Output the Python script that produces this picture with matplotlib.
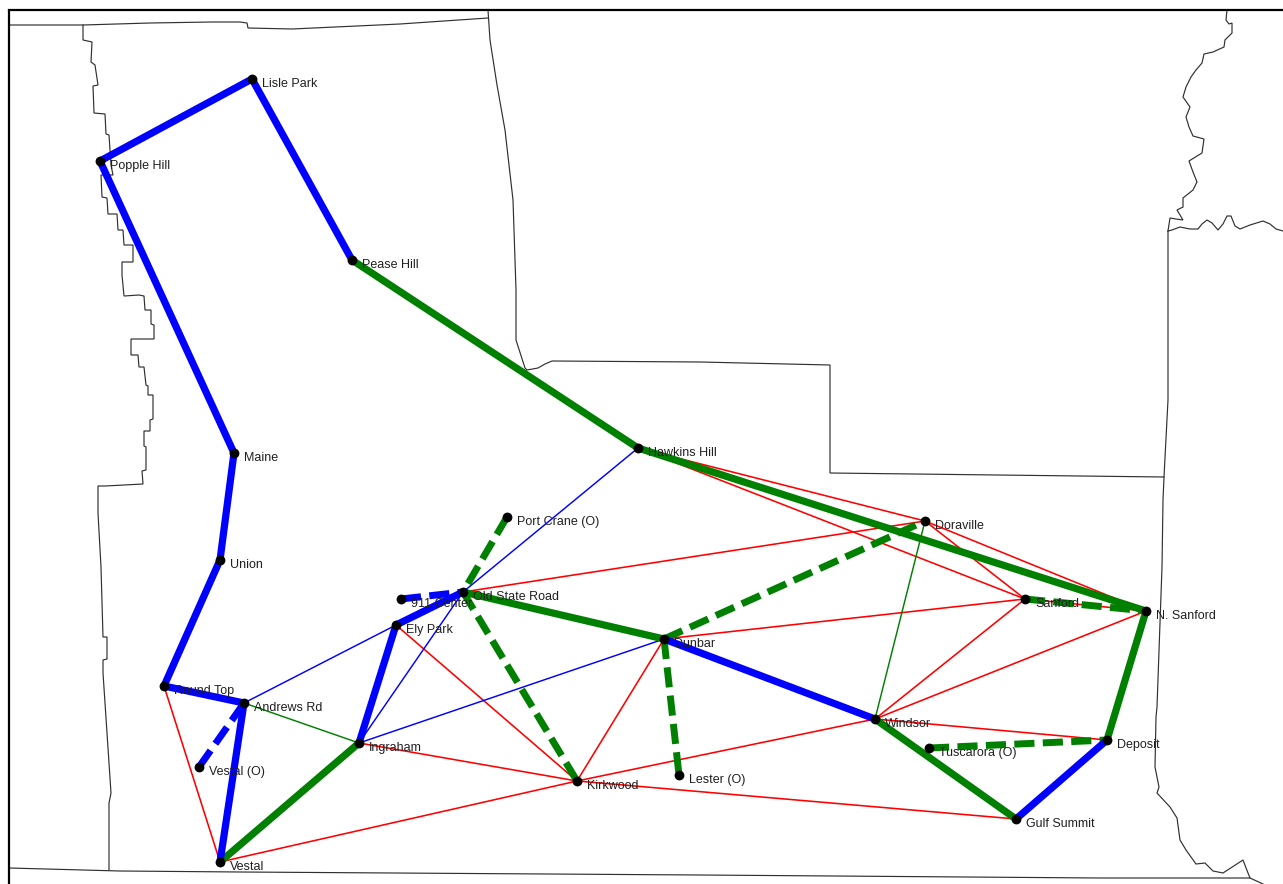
import matplotlib
matplotlib.use("Agg")
import matplotlib.pyplot as plt

plt.rcParams['font.family'] = ['Liberation Sans', 'DejaVu Sans']

# Sites: name -> map position
names = ["Lisle Park", "Popple Hill", "Pease Hill", "Hawkins Hill", "Maine", "Union", "Round Top",
         "Andrews Rd", "Ingraham", "Vestal (O)", "Vestal", "Ely Park", "911 Center", "Old State Road",
         "Port Crane (O)", "Dunbar", "Kirkwood", "Lester (O)", "Doraville", "Sanford", "N. Sanford",
         "Windsor", "Deposit", "Tuscarora (O)", "Gulf Summit"]
map_x = [252, 100, 352, 638, 234, 220, 164, 244, 359, 199, 220, 396, 401, 463, 507, 664, 577, 679,
         925, 1025, 1146, 875, 1107, 929, 1016]
map_y = [79, 161, 260, 448, 453, 560, 686, 703, 743, 767, 862, 625, 599, 592, 517, 639, 781, 775,
         521, 599, 611, 719, 740, 748, 819]
site = {n: (x, y) for n, x, y in zip(names, map_x, map_y)}

red_links = [("Round Top", "Vestal"), ("Vestal", "Kirkwood"), ("Ingraham", "Kirkwood"), ("Ely Park", "Kirkwood"),
             ("Kirkwood", "Dunbar"), ("Kirkwood", "Windsor"), ("Kirkwood", "Gulf Summit"),
             ("Old State Road", "Doraville"), ("Dunbar", "Sanford"), ("Hawkins Hill", "Doraville"),
             ("Hawkins Hill", "Sanford"), ("Doraville", "Sanford"), ("Doraville", "N. Sanford"),
             ("Sanford", "Windsor"), ("Windsor", "N. Sanford"), ("Windsor", "Deposit"), ("Sanford", "N. Sanford")]
thin_blue_links = [("Hawkins Hill", "Old State Road"), ("Old State Road", "Ingraham"),
                   ("Andrews Rd", "Ely Park"), ("Ingraham", "Dunbar")]
thin_green_links = [("Andrews Rd", "Ingraham"), ("Doraville", "Windsor")]
blue_links = [("Lisle Park", "Popple Hill"), ("Lisle Park", "Pease Hill"), ("Popple Hill", "Maine"),
              ("Maine", "Union"), ("Union", "Round Top"), ("Round Top", "Andrews Rd"), ("Andrews Rd", "Vestal"),
              ("Ingraham", "Ely Park"), ("Ely Park", "Old State Road"), ("Dunbar", "Windsor"),
              ("Gulf Summit", "Deposit")]
green_links = [("Pease Hill", "Hawkins Hill"), ("Hawkins Hill", "N. Sanford"), ("Vestal", "Ingraham"),
               ("Old State Road", "Dunbar"), ("Windsor", "Gulf Summit"), ("Deposit", "N. Sanford")]
green_dashed_links = [("Port Crane (O)", "Old State Road"), ("Old State Road", "Kirkwood"), ("Dunbar", "Lester (O)"),
                      ("Dunbar", "Doraville"), ("Sanford", "N. Sanford"), ("Tuscarora (O)", "Deposit")]
blue_dashed_links = [("Vestal (O)", "Andrews Rd"), ("911 Center", "Old State Road")]

# County boundaries
border_top = [(9, 25), (83, 25), (150, 23), (212, 22), (240, 22), (247, 23), (248, 28), (292, 29), (400, 24), (488, 18)]
border_a = [(83, 25), (83, 40), (92, 42), (91, 62), (95, 65), (98, 85), (93, 86), (94, 113), (105, 114), (106, 134),
            (109, 135), (111, 165), (113, 175), (101, 175), (102, 197), (107, 198), (108, 214), (117, 214), (118, 230),
            (123, 230), (124, 245), (133, 245), (133, 262), (122, 262), (122, 275), (124, 296), (139, 295), (144, 296),
            (145, 310), (151, 310), (151, 324), (154, 325), (154, 339), (131, 339), (131, 355), (138, 355), (139, 367),
            (144, 367), (146, 385), (148, 386), (148, 395), (153, 395), (153, 419), (150, 420), (150, 431), (144, 431),
            (144, 446), (146, 447), (146, 470), (142, 471), (143, 484), (105, 486), (98, 486), (98, 513), (101, 567),
            (103, 637), (107, 637), (107, 659), (103, 660), (103, 673), (107, 733), (111, 793), (109, 803), (109, 870)]
border_b = [(488, 10), (490, 40), (497, 85), (505, 130), (513, 200), (516, 290), (516, 340), (525, 368), (527, 370),
            (538, 368), (545, 364), (552, 361), (700, 362), (830, 365), (830, 473), (1164, 477)]
border_river = [(1227, 10), (1226, 20), (1229, 24), (1232, 23), (1232, 33), (1225, 40), (1224, 47), (1213, 52),
                (1204, 54), (1202, 63), (1196, 70), (1191, 77), (1186, 87), (1183, 97), (1190, 107), (1186, 117),
                (1189, 127), (1193, 136), (1204, 139), (1202, 153), (1189, 161), (1193, 172), (1197, 182), (1193, 190),
                (1183, 198), (1183, 207), (1177, 210), (1183, 220), (1176, 219), (1170, 218), (1168, 231)]
border_wiggle = [(1168, 231), (1172, 230), (1180, 227), (1190, 229), (1198, 229), (1202, 224), (1207, 220), (1212, 223),
                 (1218, 230), (1223, 224), (1227, 216), (1231, 216), (1235, 226), (1240, 229), (1250, 225), (1263, 221),
                 (1270, 224), (1276, 229), (1283, 231)]
border_c = [(1168, 231), (1168, 400), (1164, 477), (1163, 500), (1162, 567), (1157, 707), (1156, 717), (1155, 767),
            (1159, 787), (1157, 793), (1170, 807), (1177, 818), (1180, 840), (1186, 850), (1196, 864), (1205, 863),
            (1213, 871), (1223, 873), (1243, 860), (1248, 873), (1250, 878), (1263, 884)]
border_bottom = [(9, 868), (120, 871), (240, 872), (700, 875), (1100, 878), (1250, 878)]
borders = [border_top, border_a, border_b, border_river, border_wiggle, border_c, border_bottom]

fig = plt.figure(figsize=(12.83, 8.84), dpi=100)
ax = fig.add_axes([0, 0, 1, 1])
ax.set_xlim(0, 1283)
ax.set_ylim(884, 0)
ax.axis("off")

for b in borders:
    ax.plot([p[0] for p in b], [p[1] for p in b], color="#303030", lw=0.85, zorder=1, solid_joinstyle="miter")

# Frame
ax.plot([9, 9], [884, 10], color="black", lw=1.6, zorder=1, solid_capstyle="butt")
ax.plot([9, 1283], [10, 10], color="black", lw=1.6, zorder=1, solid_capstyle="projecting")


def draw(links, color, lw, z, dashed=False):
    for a, b in links:
        xa, ya = site[a]
        xb, yb = site[b]
        ln, = ax.plot([xa, xb], [ya, yb], color=color, lw=lw, zorder=z, solid_capstyle="round")
        if dashed:
            ln.set_dashes([2.9, 1.2])
            ln.set_dash_capstyle("butt")


draw(red_links, "#ff0000", 1.15, 2)
draw(thin_blue_links, "#0000ff", 1.05, 3)
draw(thin_green_links, "#008000", 1.05, 3)
draw(green_links, "#008000", 5.2, 4)
draw(blue_links, "#0000ff", 5.2, 5)
draw(green_dashed_links, "#008000", 5.0, 4, dashed=True)
draw(blue_dashed_links, "#0000ff", 5.0, 5, dashed=True)

ax.scatter(map_x, map_y, s=50, color="black", zorder=7, linewidths=0)
for n, x, y in zip(names, map_x, map_y):
    ax.text(x + 10, y + 5, n, fontsize=9.0, color="#202020", va="center", ha="left", zorder=8)

fig.savefig("out.png", dpi=100)
